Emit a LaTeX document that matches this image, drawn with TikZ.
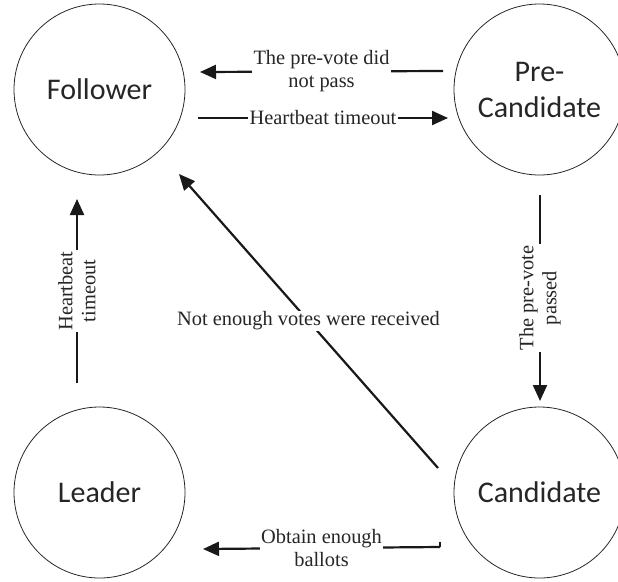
\documentclass[tikz,border=0pt]{standalone}
\usepackage{fontspec}
\setmainfont{Liberation Serif}
\newfontfamily\statefont{Carlito}
\usetikzlibrary{arrows.meta}
\begin{document}
\begin{tikzpicture}[x=1pt,y=-1pt,
  state/.style={draw=black!85,line width=0.8pt,circle,minimum size=171pt,inner sep=0pt,
    font=\statefont\fontsize{30}{36}\selectfont,align=center,text=black!85},
  conn/.style={line width=2.2pt,draw=black!90,-{Triangle[length=16pt,width=14pt]}},
  lbl/.style={fill=white,inner sep=1.5pt,align=center,font=\fontsize{20.4}{23}\selectfont,text=black!85}]
\useasboundingbox (0,0) rectangle (618,581);
\node[state] (F) at (99.5,89.5) {Follower};
\node[state] (P) at (539.5,89.5) {Pre-\\Candidate};
\node[state] (L) at (99.5,492.5) {Leader};
\node[state] (C) at (539.5,492.5) {Candidate};
% endpoints
\coordinate (pf1) at (443,71);
\coordinate (pf2) at (200,72);
\coordinate (fp1) at (198,118);
\coordinate (fp2) at (448,118);
\coordinate (pc1) at (540,195);
\coordinate (pc2) at (540,401);
\coordinate (lf1) at (77,383);
\coordinate (lf2) at (77,199);
\coordinate (cf1) at (438,468);
\coordinate (cf2) at (179,174);
\coordinate (cl0) at (440,542);
\coordinate (cl1) at (440,547);
\coordinate (cl2) at (203,549);
\draw[conn] (pf1) -- node[lbl] {The pre-vote did\\not pass} (pf2);
\draw[conn] (fp1) -- node[lbl] {Heartbeat timeout} (fp2);
\draw[conn] (pc1) -- node[lbl,rotate=90] {The pre-vote\\passed} (pc2);
\draw[conn] (lf1) -- node[lbl,rotate=90] {Heartbeat\\timeout} (lf2);
\draw[conn] (cf1) -- node[lbl,inner sep=0.5pt] {Not enough votes were received} (cf2);
\draw[line width=2.2pt,draw=black!90] (cl0) -- (cl1);
\draw[conn] (cl1) -- node[lbl] {Obtain enough\\ballots} (cl2);
\end{tikzpicture}
\end{document}
